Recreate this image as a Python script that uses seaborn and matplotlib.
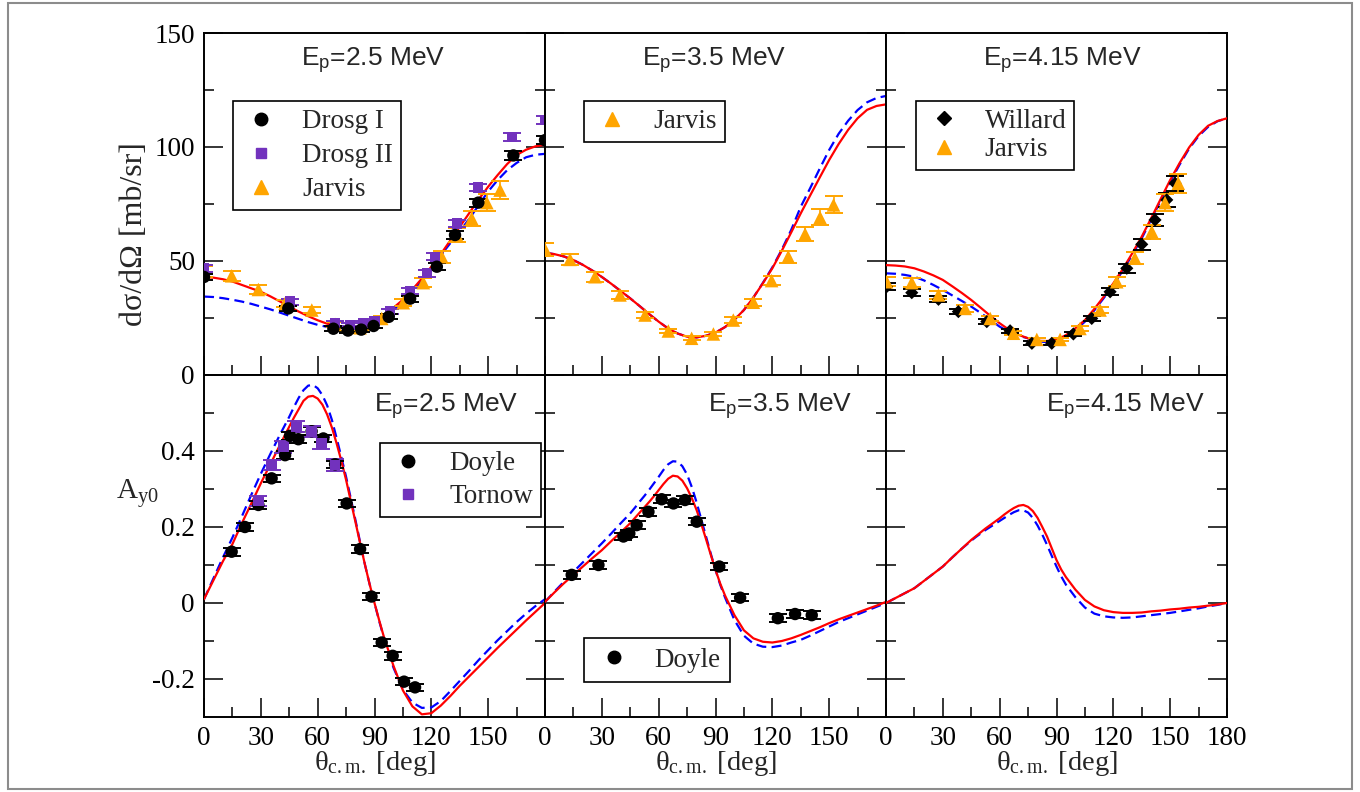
import numpy as np
import pandas as pd
import matplotlib
matplotlib.use("Agg")
import matplotlib.pyplot as plt
from matplotlib.lines import Line2D
from matplotlib.patches import Rectangle
from matplotlib.ticker import FixedLocator
import seaborn as sns

# ---------------------------------------------------------------- data
# angular grid of the cross-section calculations (deg, c.m.)
theta_xs = np.arange(0, 181, 5)
# finer grid around the analyzing-power peaks
theta_ay = np.concatenate([np.arange(0, 45, 5), np.arange(45, 95, 2.5), np.arange(95, 181, 5)])

# differential cross section [mb/sr]: solid (red) and dashed (blue) calculations
xs25_solid = [43.0, 42.7, 42.0, 41.0, 39.5, 38.0, 36.5, 34.5, 32.3, 30.0, 27.8, 25.8, 24.0,
              22.5, 21.4, 21.0, 20.9, 21.8, 23.4, 26.5, 29.5, 33.0, 37.5, 42.3, 47.5, 53.0,
              59.0, 65.0, 71.0, 77.0, 82.6, 87.7, 92.5, 96.5, 98.8, 100.3, 101.0]
xs25_dashed = [34.4, 34.2, 33.7, 33.0, 32.2, 31.2, 30.0, 28.8, 27.4, 26.0, 24.6, 23.2, 22.0,
               21.1, 20.6, 20.5, 20.8, 21.8, 23.4, 26.0, 28.7, 32.0, 36.5, 41.5, 47.0, 52.5,
               57.8, 63.0, 68.5, 74.5, 80.5, 85.5, 89.8, 93.0, 95.5, 96.6, 97.0]
xs35_solid = [53.6, 53.0, 52.0, 50.4, 48.3, 45.8, 43.0, 40.0, 36.8, 33.6, 30.2, 26.7, 23.4,
              20.4, 18.2, 16.8, 16.5, 17.2, 18.6, 21.0, 24.3, 28.5, 34.0, 40.2, 46.8, 54.5,
              62.6, 70.9, 78.8, 86.6, 94.3, 101.3, 107.5, 112.6, 116.3, 118.0, 118.7]
xs35_dashed = [53.6, 53.0, 52.0, 50.4, 48.3, 45.8, 43.0, 40.0, 36.8, 33.6, 30.2, 26.7, 23.4,
               20.4, 18.2, 16.8, 16.5, 17.2, 18.6, 21.0, 24.3, 28.5, 34.0, 40.4, 47.2, 55.0,
               63.7, 73.8, 82.0, 90.5, 98.7, 105.8, 111.5, 116.2, 119.6, 121.5, 122.4]
xs415_solid = [48.2, 48.0, 47.6, 46.8, 45.4, 43.7, 41.7, 38.9, 36.0, 32.9, 29.5, 26.0, 22.7,
               19.8, 17.6, 16.1, 15.0, 14.9, 15.4, 17.5, 20.5, 24.1, 29.0, 34.4, 40.2, 46.5,
               53.4, 60.7, 68.8, 77.2, 85.5, 93.0, 99.8, 105.3, 109.3, 111.4, 112.6]
xs415_dashed = [44.6, 44.4, 43.9, 43.1, 41.5, 39.5, 37.3, 34.9, 32.5, 30.0, 27.2, 24.2, 21.2,
                18.9, 17.2, 16.1, 14.8, 14.4, 14.6, 16.8, 19.8, 23.4, 28.4, 33.8, 39.5, 45.8,
                52.7, 60.0, 68.2, 76.5, 84.8, 92.3, 99.3, 104.8, 108.8, 111.3, 112.6]

# analyzing power A_y0: solid (red) and dashed (blue) calculations
ay25_solid = [0.010, 0.060, 0.110, 0.155, 0.210, 0.262, 0.315, 0.365, 0.415,
              0.464, 0.488, 0.510, 0.532, 0.543, 0.545, 0.538, 0.522, 0.496, 0.462, 0.420,
              0.374, 0.324, 0.268, 0.212, 0.155, 0.100, 0.048, 0.000, -0.046,
              -0.090, -0.165, -0.230, -0.272, -0.293, -0.290, -0.270, -0.245, -0.218, -0.193,
              -0.168, -0.143, -0.118, -0.094, -0.070, -0.046, -0.023, 0.000]
ay25_dashed = [0.010, 0.065, 0.120, 0.172, 0.228, 0.285, 0.340, 0.392, 0.442,
               0.490, 0.516, 0.540, 0.560, 0.572, 0.574, 0.565, 0.547, 0.520, 0.482, 0.434,
               0.384, 0.332, 0.275, 0.217, 0.158, 0.100, 0.048, 0.000, -0.048,
               -0.092, -0.170, -0.228, -0.262, -0.276, -0.275, -0.258, -0.232, -0.205, -0.178,
               -0.150, -0.124, -0.098, -0.074, -0.050, -0.028, -0.008, 0.010]
ay35_solid = [0.003, 0.028, 0.052, 0.074, 0.096, 0.118, 0.139, 0.163, 0.186,
              0.210, 0.224, 0.238, 0.252, 0.266, 0.281, 0.297, 0.313, 0.327, 0.335, 0.333,
              0.322, 0.302, 0.276, 0.245, 0.208, 0.168, 0.127, 0.087, 0.051,
              0.020, -0.032, -0.072, -0.093, -0.102, -0.104, -0.100, -0.093, -0.084, -0.074,
              -0.064, -0.053, -0.043, -0.034, -0.025, -0.016, -0.007, 0.003]
ay35_dashed = [0.003, 0.030, 0.056, 0.082, 0.107, 0.132, 0.157, 0.183, 0.210,
               0.236, 0.251, 0.267, 0.282, 0.298, 0.315, 0.332, 0.350, 0.365, 0.373, 0.372,
               0.360, 0.338, 0.305, 0.265, 0.220, 0.175, 0.130, 0.087, 0.048,
               0.015, -0.045, -0.086, -0.107, -0.115, -0.116, -0.112, -0.104, -0.097, -0.086,
               -0.074, -0.062, -0.050, -0.040, -0.030, -0.020, -0.010, 0.000]
ay415_solid = [0.000, 0.013, 0.026, 0.039, 0.058, 0.077, 0.096, 0.120, 0.143,
               0.166, 0.176, 0.186, 0.196, 0.205, 0.214, 0.223, 0.233, 0.242, 0.250, 0.256,
               0.258, 0.253, 0.242, 0.224, 0.200, 0.175, 0.144, 0.113, 0.088,
               0.068, 0.035, 0.008, -0.009, -0.019, -0.024, -0.026, -0.026, -0.025, -0.022,
               -0.020, -0.017, -0.015, -0.012, -0.010, -0.007, -0.004, 0.000]
ay415_dashed = [0.000, 0.013, 0.026, 0.039, 0.058, 0.077, 0.096, 0.120, 0.143,
                0.164, 0.174, 0.183, 0.192, 0.200, 0.208, 0.216, 0.224, 0.232, 0.239, 0.244,
                0.244, 0.238, 0.224, 0.204, 0.180, 0.153, 0.124, 0.096, 0.070,
                0.048, 0.015, -0.012, -0.028, -0.035, -0.038, -0.039, -0.038, -0.035, -0.032,
                -0.029, -0.026, -0.022, -0.018, -0.014, -0.009, -0.005, 0.000]

# measured cross sections, E_p = 2.5 MeV
drosg1_theta = [0.0, 44.5, 68.3, 76.0, 83.0, 89.5, 97.5, 108.8, 122.9, 132.5, 144.8, 163.3, 180.0]
drosg1_xs = [43.0, 29.2, 20.3, 19.5, 19.9, 21.5, 25.5, 33.5, 47.5, 61.4, 75.6, 96.3, 103.0]
drosg1_err = [1.5, 1.2, 1.0, 1.0, 1.0, 1.0, 1.1, 1.3, 1.5, 1.6, 1.7, 1.8, 1.8]
drosg2_theta = [0.0, 45.4, 69.0, 77.0, 84.0, 90.0, 98.0, 108.8, 117.6, 122.0, 133.4, 144.8, 162.4, 180.0]
drosg2_xs = [46.8, 32.2, 22.7, 22.0, 22.7, 23.6, 27.8, 36.8, 44.6, 51.9, 66.5, 82.2, 104.5, 111.8]
drosg2_err = [1.5, 1.3, 1.0, 1.0, 1.0, 1.0, 1.1, 1.3, 1.4, 1.5, 1.6, 1.7, 1.8, 1.8]
jarvis25_theta = [0.0, 14.6, 28.7, 42.8, 56.9, 69.2, 82.4, 93.8, 105.2, 115.8, 125.5, 133.4, 141.3, 149.3, 156.3]
jarvis25_xs = [45.3, 43.5, 37.5, 31.4, 28.5, 22.2, 20.7, 24.8, 31.7, 40.5, 51.9, 61.4, 68.7, 75.6, 81.1]
jarvis25_err = [2.3, 2.2, 1.9, 1.6, 1.4, 1.1, 1.0, 1.2, 1.6, 2.0, 2.6, 3.1, 3.4, 3.8, 4.1]

# measured cross sections, E_p = 3.5 MeV
jarvis35_theta = [0.0, 13.2, 26.4, 39.6, 52.8, 65.1, 77.4, 88.9, 99.4, 110.0, 119.6, 128.4, 137.3, 145.2, 152.3]
jarvis35_xs = [55.1, 50.7, 43.1, 35.1, 26.3, 19.3, 16.1, 18.0, 24.1, 31.9, 41.4, 51.9, 61.8, 69.1, 74.6]
jarvis35_err = [2.8, 2.5, 2.2, 1.8, 1.3, 1.0, 0.8, 0.9, 1.2, 1.6, 2.1, 2.6, 3.1, 3.5, 3.7]

# measured cross sections, E_p = 4.15 MeV
willard_theta = [0.3, 13.6, 27.7, 38.2, 53.2, 65.5, 77.0, 87.5, 98.9, 108.6, 118.3, 127.1, 135.0, 142.0, 148.2, 152.6]
willard_xs = [38.7, 36.1, 33.2, 27.8, 23.4, 19.4, 13.9, 13.9, 18.0, 24.8, 36.5, 46.8, 57.3, 68.0, 76.8, 84.1]
willard_err = [1.6, 1.5, 1.4, 1.2, 1.0, 0.9, 0.8, 0.8, 0.9, 1.1, 1.5, 1.9, 2.3, 2.7, 3.0, 3.3]
jarvis415_theta = [0.3, 13.6, 27.7, 41.8, 55.0, 67.3, 79.6, 91.9, 102.4, 113.0, 121.8, 131.4, 140.3, 147.3, 154.3]
jarvis415_xs = [40.9, 40.5, 35.1, 29.2, 24.8, 18.3, 15.6, 15.6, 20.4, 28.5, 40.9, 51.2, 62.9, 75.6, 84.1]
jarvis415_err = [2.0, 2.0, 1.8, 1.5, 1.2, 0.9, 0.8, 0.8, 1.0, 1.4, 2.0, 2.6, 3.1, 3.8, 4.2]

# measured analyzing powers
doyle25_theta = [14.6, 21.6, 28.7, 35.7, 42.8, 45.4, 49.8, 56.8, 63.0, 69.2, 75.3, 82.4, 88.4, 93.8, 99.6, 105.6, 111.4]
doyle25_ay = [0.135, 0.200, 0.258, 0.328, 0.389, 0.440, 0.431, 0.452, 0.433, 0.365, 0.262, 0.142, 0.017,
              -0.104, -0.139, -0.207, -0.222]
doyle25_err = [0.010] * 17
tornow25_theta = [28.7, 35.7, 41.9, 48.8, 56.8, 62.0, 69.2]
tornow25_ay = [0.268, 0.363, 0.411, 0.464, 0.451, 0.420, 0.363]
tornow25_err = [0.014, 0.014, 0.015, 0.015, 0.015, 0.016, 0.016]
doyle35_theta = [14.1, 28.2, 41.4, 44.5, 48.4, 54.6, 61.6, 67.8, 73.9, 80.1, 92.0, 103.0, 122.9, 132.0, 140.8]
doyle35_ay = [0.074, 0.100, 0.175, 0.183, 0.205, 0.240, 0.273, 0.262, 0.271, 0.214, 0.096, 0.014,
              -0.040, -0.029, -0.032]
doyle35_err = [0.010] * 15

energies = ["2.5", "3.5", "4.15"]

# ---------------------------------------------------------------- style
sns.set_theme(style="white")
plt.rcParams.update({
    "font.family": ["Liberation Serif", "DejaVu Serif"],
    "mathtext.fontset": "custom",
    "mathtext.rm": "Liberation Serif",
    "mathtext.it": "Liberation Serif:italic",
    "mathtext.sf": "Liberation Sans",
    "axes.linewidth": 1.4,
    "axes.edgecolor": "black",
    "xtick.color": "black",
    "ytick.color": "black",
})

RED = "#ff0000"
BLUE = "#0000ff"
ORANGE = "#ffa500"
PURPLE = "#7232bd"
FS_TICK = 19.5
FS_LABEL = 20
FS_LEG = 19.5
FS_TITLE = 19
SANS = ["Liberation Sans", "DejaVu Sans"]

W, H = 1360, 792
fig = plt.figure(figsize=(W / 100, H / 100), dpi=100)

ax_w = 341 / W
ax_h = 342 / H
lefts = [204 / W, 545 / W, 886 / W]
bottom_top_row = 1 - 375 / H
bottom_low_row = 1 - 717 / H

axes_top = [fig.add_axes([l, bottom_top_row, ax_w, ax_h]) for l in lefts]
axes_low = [fig.add_axes([l, bottom_low_row, ax_w, ax_h]) for l in lefts]


def style_axis(ax, ymajor, yminor, ylim):
    ax.set_xlim(0, 180)
    ax.set_ylim(*ylim)
    ax.xaxis.set_major_locator(FixedLocator(np.arange(0, 181, 30)))
    ax.xaxis.set_minor_locator(FixedLocator(np.arange(15, 180, 30)))
    ax.yaxis.set_major_locator(FixedLocator(ymajor))
    ax.yaxis.set_minor_locator(FixedLocator(yminor))
    ax.tick_params(which="both", direction="in", left=True, right=True,
                   top=False, bottom=True, width=1.1,
                   labelsize=FS_TICK, pad=6.5)
    ax.tick_params(which="major", length=14)
    ax.tick_params(which="minor", length=7)
    ax.set_xlabel("")
    ax.set_ylabel("")
    for sp in ax.spines.values():
        sp.set_visible(True)
        sp.set_linewidth(1.4)


def draw_calc(ax, theta, solid, dashed):
    sns.lineplot(x=theta, y=dashed, ax=ax, color=BLUE, linewidth=1.6,
                 linestyle=(0, (4.5, 2.4)), zorder=2, sort=False)
    sns.lineplot(x=theta, y=solid, ax=ax, color=RED, linewidth=1.6,
                 zorder=3, sort=False)


def draw_points(ax, th, val, err, marker, color, size):
    ax.errorbar(th, val, yerr=err, fmt="none", ecolor=color, elinewidth=1.2,
                capsize=6.5, capthick=1.4, zorder=4)
    sns.scatterplot(x=th, y=val, ax=ax, marker=marker, color=color, s=size,
                    edgecolor="none", linewidth=0, zorder=5)


def legend(ax, entries, anchor, spacing, pad):
    handles = [Line2D([], [], linestyle="none", marker=m, color=c, markersize=ms)
               for m, c, ms, _ in entries]
    labels = [lab for _, _, _, lab in entries]
    leg = ax.legend(handles, labels, loc="upper left", bbox_to_anchor=anchor,
                    borderaxespad=0, frameon=True, fancybox=False, framealpha=1,
                    edgecolor="black", fontsize=FS_LEG, handlelength=1.5,
                    handletextpad=0.75, borderpad=pad, labelspacing=spacing)
    leg.get_frame().set_linewidth(1.2)
    leg.set_zorder(10)


# ---- cross sections
draw_calc(axes_top[0], theta_xs, xs25_solid, xs25_dashed)
draw_points(axes_top[0], jarvis25_theta, jarvis25_xs, jarvis25_err, "^", ORANGE, 95)
draw_points(axes_top[0], drosg2_theta, drosg2_xs, drosg2_err, "s", PURPLE, 55)
draw_points(axes_top[0], drosg1_theta, drosg1_xs, drosg1_err, "o", "black", 80)

draw_calc(axes_top[1], theta_xs, xs35_solid, xs35_dashed)
draw_points(axes_top[1], jarvis35_theta, jarvis35_xs, jarvis35_err, "^", ORANGE, 95)

draw_calc(axes_top[2], theta_xs, xs415_solid, xs415_dashed)
draw_points(axes_top[2], willard_theta, willard_xs, willard_err, "D", "black", 45)
draw_points(axes_top[2], jarvis415_theta, jarvis415_xs, jarvis415_err, "^", ORANGE, 95)

# ---- analyzing powers
draw_calc(axes_low[0], theta_ay, ay25_solid, ay25_dashed)
draw_points(axes_low[0], doyle25_theta, doyle25_ay, doyle25_err, "o", "black", 80)
draw_points(axes_low[0], tornow25_theta, tornow25_ay, tornow25_err, "s", PURPLE, 55)

draw_calc(axes_low[1], theta_ay, ay35_solid, ay35_dashed)
draw_points(axes_low[1], doyle35_theta, doyle35_ay, doyle35_err, "o", "black", 80)

draw_calc(axes_low[2], theta_ay, ay415_solid, ay415_dashed)

for i, ax in enumerate(axes_top):
    style_axis(ax, [0, 50, 100, 150], [25, 75, 125], (0, 150))
    ax.set_xticklabels([])
    if i == 0:
        ax.set_yticklabels(["0", "50", "100", "150"])
    else:
        ax.set_yticklabels([])
    ax.text(0.285, 0.9015, f"E$_\\mathsf{{p}}$={energies[i]} MeV", transform=ax.transAxes,
            ha="left", va="baseline", fontsize=FS_TITLE, family=SANS)

low_title_x = [0.5, 0.477, 0.47]
for i, ax in enumerate(axes_low):
    style_axis(ax, [-0.2, 0, 0.2, 0.4, 0.6], [-0.1, 0.1, 0.3, 0.5], (-0.3, 0.6))
    if i == 0:
        ax.set_yticklabels(["-0.2", "0", "0.2", "0.4", ""])
    else:
        ax.set_yticklabels([])
    xl = ["0", "30", "60", "90", "120", "150", "180" if i == 2 else ""]
    ax.set_xticklabels(xl)
    ax.text(low_title_x[i], 0.8898, f"E$_\\mathsf{{p}}$={energies[i]} MeV", transform=ax.transAxes,
            ha="left", va="baseline", fontsize=FS_TITLE, family=SANS)
    fig.text((lefts[i] + ax_w / 2), 1 - 764 / H, "θ$_{\\mathrm{c.m.}}$ [deg]",
             ha="center", va="center", fontsize=FS_LABEL + 0.5)

# legends
legend(axes_top[0], [("o", "black", 9, "Drosg I"), ("s", PURPLE, 7.5, "Drosg II"),
                     ("^", ORANGE, 10, "Jarvis")], (0.085, 0.801), 0.33, 0.3)
legend(axes_top[1], [("^", ORANGE, 10, "Jarvis")], (0.114, 0.801), 0.3, 0.3)
legend(axes_top[2], [("D", "black", 7, "Willard"), ("^", ORANGE, 10, "Jarvis")],
       (0.088, 0.801), 0.14, 0.28)
legend(axes_low[0], [("o", "black", 9, "Doyle"), ("s", PURPLE, 7.5, "Tornow")],
       (0.516, 0.801), 0.3, 0.3)
legend(axes_low[1], [("o", "black", 9, "Doyle")], (0.114, 0.231), 0.3, 0.36)

# axis titles
fig.text(135 / W, 1 - 234 / H, "dσ/dΩ [mb/sr]", rotation=90,
         ha="center", va="center", fontsize=23)
fig.text(137 / W, 1 - 493 / H, r"A$_{\mathrm{y0}}$", ha="center", va="center",
         fontsize=FS_LABEL + 1)

# thin frame around the whole figure
fig.patches.append(Rectangle((8 / W, 3 / H), 1344 / W, 786 / H, transform=fig.transFigure,
                             fill=False, edgecolor="#8c8c8c", linewidth=1.5))

fig.savefig("out.png", dpi=100)
